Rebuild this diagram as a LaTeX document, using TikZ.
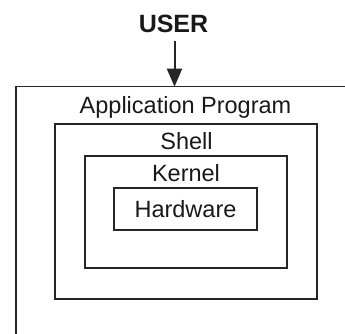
\documentclass[tikz,border=0pt]{standalone}
\usepackage{fontspec}
\setmainfont{Liberation Sans}
\usetikzlibrary{arrows.meta}
\begin{document}
\begin{tikzpicture}[x=1pt,y=1pt,
  layer/.style={draw=black!85,line width=1.6pt,inner sep=0pt,fill=none},
  lbl/.style={inner sep=0pt,anchor=base,font=\fontsize{23.5}{28}\selectfont,text=black!90}]
\useasboundingbox (0,0) rectangle (345,-334);
\begin{scope}
\clip (0,0) rectangle (345,-334);
\node[layer,minimum width=344pt,minimum height=264pt] (app) at (188,-218.7) {};
\end{scope}
\node[layer,minimum width=262pt,minimum height=175pt] (shell) at (186,-211.5) {};
\node[layer,minimum width=202pt,minimum height=112pt] (kernel) at (186,-212) {};
\node[layer,minimum width=143pt,minimum height=42pt] (hw) at (185.5,-209) {};
\node[lbl] (apptext) at (185.5,-113.3) {Application Program};
\node[lbl] (shelltext) at (186.5,-149.3) {Shell};
\node[lbl] (kerneltext) at (186,-181) {Kernel};
\node[lbl] (hwtext) at (185.5,-217.3) {Hardware};
\node[lbl,font=\fontsize{25}{30}\selectfont\bfseries] (user) at (173.5,-32.3) {USER};
\coordinate (top) at (174.5,-86.7);
\draw[line width=2pt,draw=black!85,-{Triangle[width=15pt,length=18pt]}] (top |- 0,-41) -- (top);
\end{tikzpicture}
\end{document}
